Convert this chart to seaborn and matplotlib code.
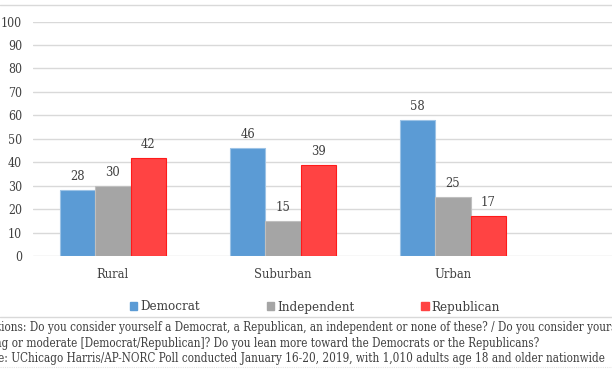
import matplotlib
matplotlib.use("Agg")
import matplotlib.pyplot as plt
import seaborn as sns
import pandas as pd
from matplotlib.lines import Line2D

areas = ["Rural", "Suburban", "Urban"]
parties = ["Democrat", "Independent", "Republican"]
democrat = [28, 46, 58]
independent = [30, 15, 25]
republican = [42, 39, 17]
colors = ["#5b9bd5", "#a5a5a5", "#ff4343"]
edges = ["#9dc3e6", "#bfbfbf", "#ff1a1a"]
yticks = [0, 10, 20, 30, 40, 50, 60, 70, 80, 90, 100]

notes = [
    "Questions: Do you consider yourself a Democrat, a Republican, an independent or none of these? / Do you consider yourself a",
    "strong or moderate [Democrat/Republican]? Do you lean more toward the Democrats or the Republicans?",
    "Source: UChicago Harris/AP-NORC Poll conducted January 16-20, 2019, with 1,010 adults age 18 and older nationwide",
]
# the note block is cut at the left edge of the original graphic
note_x = [-30, -26, -33]

df = pd.DataFrame({
    "area": areas * 3,
    "party": [p for p in parties for _ in areas],
    "value": democrat + independent + republican,
})

sns.set_style("white")
plt.rcParams["font.family"] = ["DejaVu Serif"]
plt.rcParams["font.stretch"] = "condensed"
txt = "#404040"

W, H = 612, 374
fig = plt.figure(figsize=(W / 100, H / 100), dpi=100)
ax = fig.add_axes([33 / W, (H - 256) / H, 1 - 33 / W, 234.5 / H])

sns.barplot(data=df, x="area", y="value", hue="party", order=areas,
            hue_order=parties, palette=colors, width=0.624, ax=ax,
            legend=False, saturation=1)

for cont, ec in zip(ax.containers, edges):
    for b in cont:
        b.set_edgecolor(ec)
        b.set_linewidth(0.8)
    ax.bar_label(cont, padding=5, fontsize=9.3, color=txt)

ax.set_xlim(-0.47, 2.935)
ax.set_ylim(0, 100)
ax.set_yticks(yticks)
ax.yaxis.grid(True, color="#d9d9d9", linewidth=1)
ax.set_axisbelow(True)
for s in ax.spines.values():
    s.set_visible(False)
ax.tick_params(axis="both", length=0, labelsize=8.8, colors=txt)
ax.tick_params(axis="x", labelsize=9.3, pad=9)
ax.tick_params(axis="y", pad=8)
ax.set_xlabel("")
ax.set_ylabel("")

# frame lines of the original graphic
fig.add_artist(Line2D([0, 1], [1 - 4.5 / H] * 2, color="#d9d9d9", lw=1))
fig.add_artist(Line2D([0, 1], [1 - 317 / H] * 2, color="#d9d9d9", lw=1))
fig.add_artist(Line2D([0, 1], [1 - 367 / H] * 2, color="#e4e4e4", lw=0.8, ls=(0, (1, 1))))

handles = [plt.Rectangle((0, 0), 1, 1, color=c) for c in colors]
fig.legend(handles, parties, loc="center", bbox_to_anchor=(315 / W, 1 - 307 / H),
           ncol=3, frameon=False, fontsize=9.5, handlelength=0.55, handleheight=0.55,
           handletextpad=0.2, columnspacing=5.1, labelcolor=txt)

for i, line in enumerate(notes):
    fig.text(note_x[i] / W, 1 - (328 + 15.3 * i) / H, line, fontsize=8.4, color=txt,
             va="center", ha="left")

fig.savefig("out.png", dpi=100)
